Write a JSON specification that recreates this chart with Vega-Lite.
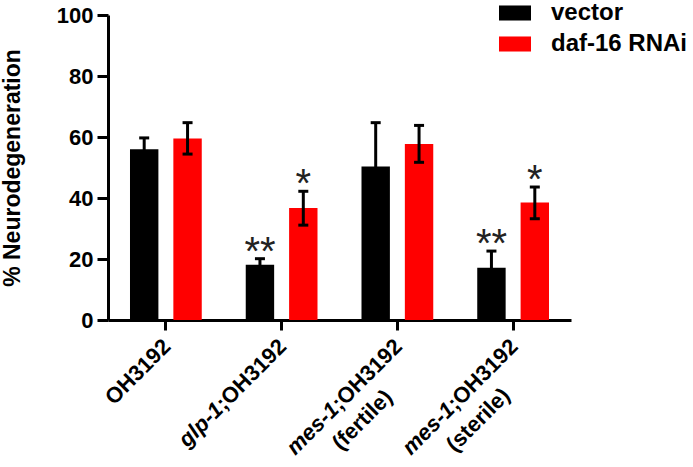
{
  "$schema": "https://vega.github.io/schema/vega-lite/v6.json",
  "width": 463,
  "height": 305,
  "autosize": {"type": "none"},
  "padding": {"left": 108, "top": 15, "right": 122, "bottom": 147},
  "background": "white",
  "config": {"view": {"stroke": null}, "font": "Liberation Sans"},
  "datasets": {
    "bars": [
      {"g": "OH3192", "cond": "vector", "mean": 56.0, "lo": 52.3, "hi": 59.7, "sig": ""},
      {"g": "OH3192", "cond": "daf-16 RNAi", "mean": 59.5, "lo": 54.4, "hi": 64.7, "sig": ""},
      {"g": "glp-1;OH3192", "cond": "vector", "mean": 18.1, "lo": 16.1, "hi": 20.1, "sig": "**"},
      {"g": "glp-1;OH3192", "cond": "daf-16 RNAi", "mean": 36.7, "lo": 31.1, "hi": 42.2, "sig": "*"},
      {"g": "mes-1;OH3192 (fertile)", "cond": "vector", "mean": 50.3, "lo": 36.0, "hi": 64.7, "sig": ""},
      {"g": "mes-1;OH3192 (fertile)", "cond": "daf-16 RNAi", "mean": 57.7, "lo": 51.7, "hi": 63.8, "sig": ""},
      {"g": "mes-1;OH3192 (sterile)", "cond": "vector", "mean": 17.1, "lo": 11.6, "hi": 22.6, "sig": "**"},
      {"g": "mes-1;OH3192 (sterile)", "cond": "daf-16 RNAi", "mean": 38.5, "lo": 33.2, "hi": 43.6, "sig": "*"}
    ],
    "labels": [
      {"g": "OH3192", "pre": "", "main": "OH3192", "sub": ""},
      {"g": "glp-1;OH3192", "pre": "glp-1", "main": ";OH3192", "sub": ""},
      {"g": "mes-1;OH3192 (fertile)", "pre": "mes-1", "main": ";OH3192", "sub": "(fertile)"},
      {"g": "mes-1;OH3192 (sterile)", "pre": "mes-1", "main": ";OH3192", "sub": "(sterile)"}
    ]
  },
  "layer": [
    {
      "data": {"name": "bars"},
      "mark": {"type": "bar"},
      "encoding": {
        "x": {
          "field": "g", "type": "nominal",
          "scale": {"domain": ["OH3192", "glp-1;OH3192", "mes-1;OH3192 (fertile)", "mes-1;OH3192 (sterile)"], "paddingInner": 0.38, "paddingOuter": 0.19},
          "axis": {"title": null, "labels": false, "grid": false, "domainColor": "black", "domainWidth": 3, "tickColor": "black", "tickWidth": 3, "tickSize": 10}
        },
        "xOffset": {"field": "cond", "type": "nominal", "scale": {"domain": ["vector", "daf-16 RNAi"], "paddingInner": 0.345, "paddingOuter": 0}},
        "y": {
          "field": "mean", "type": "quantitative",
          "scale": {"domain": [0, 100], "nice": false},
          "axis": {"title": "% Neurodegeneration", "values": [0, 20, 40, 60, 80, 100], "grid": false, "domainColor": "black", "domainWidth": 3, "tickColor": "black", "tickWidth": 3, "tickSize": 11, "labelPadding": 4, "labelFont": "Liberation Sans", "labelFontSize": 22, "labelFontWeight": "bold", "labelColor": "black", "titleFont": "Liberation Sans", "titleFontSize": 23, "titleFontWeight": "bold", "titleColor": "black", "titlePadding": 32}
        },
        "color": {
          "field": "cond", "type": "nominal",
          "scale": {"domain": ["vector", "daf-16 RNAi"], "range": ["#000000", "#ff0000"]},
          "legend": {"title": null, "orient": "none", "legendX": 391, "legendY": -18, "padding": 0, "symbolType": "M-1,-0.47H1V0.47H-1Z", "symbolSize": 1024, "symbolStrokeWidth": 0, "symbolOpacity": 1, "labelFont": "Liberation Sans", "labelFontSize": 24, "labelFontWeight": "bold", "labelColor": "black", "labelOffset": 20, "rowPadding": 3, "labelLimit": 300}
        }
      }
    },
    {
      "data": {"name": "bars"},
      "mark": {"type": "rule", "color": "black", "strokeWidth": 3},
      "encoding": {
        "x": {"field": "g", "type": "nominal"},
        "xOffset": {"field": "cond", "type": "nominal"},
        "y": {"field": "lo", "type": "quantitative"},
        "y2": {"field": "hi"}
      }
    },
    {
      "data": {"name": "bars"},
      "mark": {"type": "tick", "color": "black", "size": 10, "thickness": 3, "opacity": 1},
      "encoding": {
        "x": {"field": "g", "type": "nominal"},
        "xOffset": {"field": "cond", "type": "nominal"},
        "y": {"field": "hi", "type": "quantitative"}
      }
    },
    {
      "data": {"name": "bars"},
      "mark": {"type": "tick", "color": "black", "size": 10, "thickness": 3, "opacity": 1},
      "encoding": {
        "x": {"field": "g", "type": "nominal"},
        "xOffset": {"field": "cond", "type": "nominal"},
        "y": {"field": "lo", "type": "quantitative"}
      }
    },
    {
      "data": {"name": "bars"},
      "transform": [{"filter": "datum.sig != ''"}],
      "mark": {"type": "text", "font": "Liberation Sans", "fontSize": 40, "color": "#222222", "baseline": "alphabetic", "align": "center", "dy": 6},
      "encoding": {
        "x": {"field": "g", "type": "nominal"},
        "xOffset": {"field": "cond", "type": "nominal"},
        "y": {"field": "hi", "type": "quantitative"},
        "text": {"field": "sig"}
      }
    },
    {
      "data": {"name": "labels"},
      "mark": {"type": "text", "font": "Liberation Sans", "fontSize": 22, "fontWeight": "bold", "color": "black", "align": "right", "baseline": "middle", "angle": 315, "dx": -15.5, "dy": 17},
      "encoding": {
        "x": {"field": "g", "type": "nominal"},
        "y": {"datum": 0, "type": "quantitative"},
        "text": {"field": "main"}
      }
    },
    {
      "data": {"name": "labels"},
      "transform": [{"filter": "datum.pre != ''"}],
      "mark": {"type": "text", "font": "Liberation Sans", "fontSize": 22, "fontWeight": "bold", "fontStyle": "italic", "color": "black", "align": "right", "baseline": "middle", "angle": 315, "dx": -104.8, "dy": 17},
      "encoding": {
        "x": {"field": "g", "type": "nominal"},
        "y": {"datum": 0, "type": "quantitative"},
        "text": {"field": "pre"}
      }
    },
    {
      "data": {"name": "labels"},
      "transform": [{"filter": "datum.sub != ''"}],
      "mark": {"type": "text", "font": "Liberation Sans", "fontSize": 22, "fontWeight": "bold", "color": "black", "align": "center", "baseline": "middle", "angle": 315, "dx": -95.5, "dy": 46},
      "encoding": {
        "x": {"field": "g", "type": "nominal"},
        "y": {"datum": 0, "type": "quantitative"},
        "text": {"field": "sub"}
      }
    }
  ]
}
